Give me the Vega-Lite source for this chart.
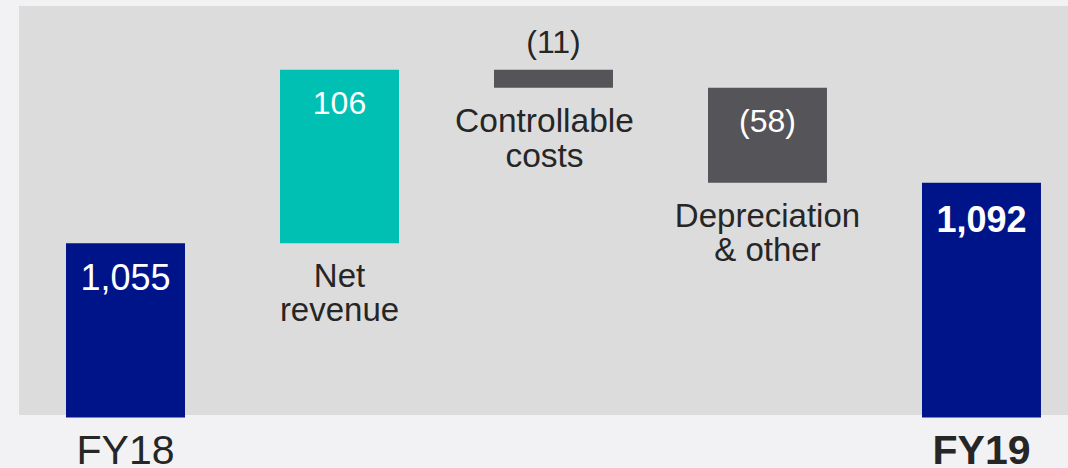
{
  "$schema": "https://vega.github.io/schema/vega-lite/v6.json",
  "autosize": "none",
  "width": 1049,
  "height": 409,
  "padding": {"left": 19, "top": 6, "right": 0, "bottom": 53},
  "background": "#f2f2f4",
  "config": {
    "view": {"fill": "#dcdcdc", "stroke": null},
    "font": "Liberation Sans",
    "text": {"font": "Liberation Sans"}
  },
  "data": {
    "values": [
      {"cat": "FY18", "hi": 1055, "lo": 948.5, "kind": "total", "value": "1,055", "name": ""},
      {"cat": "Net revenue", "hi": 1161, "lo": 1055, "kind": "increase", "value": "106", "name": "Net\nrevenue"},
      {"cat": "Controllable costs", "hi": 1161, "lo": 1150, "kind": "decrease", "value": "(11)", "name": "Controllable\ncosts"},
      {"cat": "Depreciation & other", "hi": 1150, "lo": 1092, "kind": "decrease", "value": "(58)", "name": "Depreciation\n& other"},
      {"cat": "FY19", "hi": 1092, "lo": 948.5, "kind": "total", "value": "1,092", "name": ""}
    ]
  },
  "encoding": {
    "x": {
      "field": "cat",
      "type": "nominal",
      "sort": null,
      "scale": {"paddingInner": 0.444, "paddingOuter": 0.173, "align": 0.635},
      "axis": {
        "title": null,
        "domain": false,
        "ticks": false,
        "tickSize": 0,
        "grid": false,
        "labelAngle": 0,
        "labelFont": "Liberation Sans",
        "labelFontSize": 41,
        "labelColor": "#262626",
        "labelBaseline": "alphabetic",
        "labelPadding": 48,
        "labelExpr": "datum.value == 'FY18' || datum.value == 'FY19' ? datum.value : ''",
        "labelFontWeight": {"condition": {"test": "datum.value == 'FY19'", "value": "bold"}, "value": "normal"}
      }
    }
  },
  "layer": [
    {
      "mark": {"type": "bar", "clip": false},
      "encoding": {
        "y": {"field": "hi", "type": "quantitative", "scale": {"domain": [950, 1200], "zero": false, "nice": false, "clamp": false}, "axis": null},
        "y2": {"field": "lo"},
        "color": {
          "field": "kind",
          "type": "nominal",
          "scale": {"domain": ["total", "increase", "decrease"], "range": ["#001489", "#00bfb3", "#555459"]},
          "legend": null
        }
      }
    },
    {
      "transform": [{"filter": "datum.cat == 'FY18'"}],
      "mark": {"type": "text", "color": "#ffffff", "fontSize": 36, "baseline": "alphabetic", "dy": 47},
      "encoding": {"y": {"field": "hi", "type": "quantitative"}, "text": {"field": "value"}}
    },
    {
      "transform": [{"filter": "datum.cat == 'FY19'"}],
      "mark": {"type": "text", "color": "#ffffff", "fontSize": 36, "fontWeight": "bold", "baseline": "alphabetic", "dy": 49},
      "encoding": {"y": {"field": "hi", "type": "quantitative"}, "text": {"field": "value"}}
    },
    {
      "transform": [{"filter": "datum.cat == 'Net revenue' || datum.cat == 'Depreciation & other'"}],
      "mark": {"type": "text", "color": "#ffffff", "fontSize": 32, "baseline": "alphabetic", "dy": 44},
      "encoding": {"y": {"field": "hi", "type": "quantitative"}, "text": {"field": "value"}}
    },
    {
      "transform": [{"filter": "datum.cat == 'Controllable costs'"}],
      "mark": {"type": "text", "color": "#262626", "fontSize": 32, "baseline": "alphabetic", "dy": -17},
      "encoding": {"y": {"field": "hi", "type": "quantitative"}, "text": {"field": "value"}}
    },
    {
      "transform": [{"filter": "datum.cat == 'Net revenue' || datum.cat == 'Depreciation & other'"}],
      "mark": {"type": "text", "color": "#262626", "fontSize": 33, "baseline": "alphabetic", "dy": 44, "lineBreak": "\n", "lineHeight": 34},
      "encoding": {"y": {"field": "lo", "type": "quantitative"}, "text": {"field": "name"}}
    },
    {
      "transform": [{"filter": "datum.cat == 'Controllable costs'"}],
      "mark": {"type": "text", "color": "#262626", "fontSize": 33.5, "baseline": "alphabetic", "dy": 44, "dx": -9, "lineBreak": "\n", "lineHeight": 35},
      "encoding": {"y": {"field": "lo", "type": "quantitative"}, "text": {"field": "name"}}
    }
  ]
}
